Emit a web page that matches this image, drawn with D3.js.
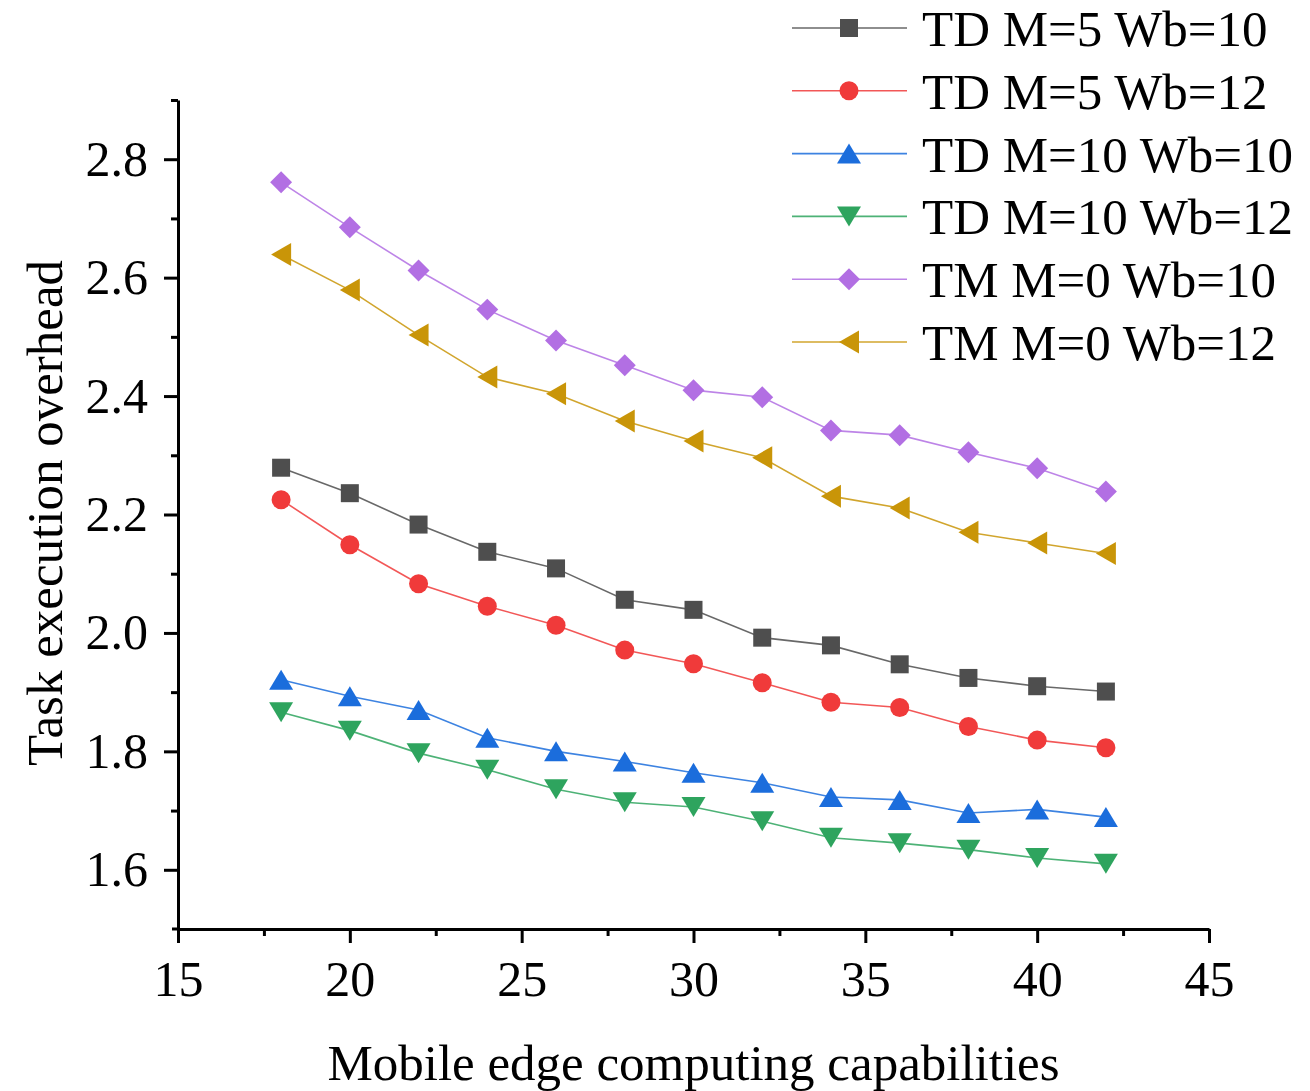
<!DOCTYPE html>
<html>
<head>
<meta charset="utf-8">
<script src="https://cdn.jsdelivr.net/npm/d3@7"></script>
<style>
  html, body { margin: 0; padding: 0; background: #fff; }
  svg { display: block; }
  text { font-family: "Liberation Serif", "Times New Roman", serif; fill: #000; }
</style>
</head>
<body>
<svg id="chart" width="1310" height="1091"></svg>
<script>
// Mobile edge computing capability (x) for every series
const capabilities = [18, 20, 22, 24, 26, 28, 30, 32, 34, 36, 38, 40, 42];

// Task execution overhead per scheme
const tdM5Wb10  = [2.279, 2.236, 2.183, 2.137, 2.109, 2.056, 2.039, 1.992, 1.979, 1.947, 1.924, 1.910, 1.901];
const tdM5Wb12  = [2.225, 2.149, 2.083, 2.045, 2.013, 1.971, 1.948, 1.916, 1.883, 1.874, 1.842, 1.819, 1.806];
const tdM10Wb10 = [1.921, 1.893, 1.870, 1.823, 1.800, 1.783, 1.764, 1.747, 1.723, 1.718, 1.696, 1.702, 1.689];
const tdM10Wb12 = [1.866, 1.835, 1.797, 1.769, 1.736, 1.714, 1.706, 1.682, 1.654, 1.645, 1.634, 1.620, 1.610];
const tmM0Wb10  = [2.761, 2.685, 2.612, 2.546, 2.494, 2.452, 2.410, 2.398, 2.342, 2.334, 2.305, 2.278, 2.239];
const tmM0Wb12  = [2.639, 2.579, 2.503, 2.432, 2.404, 2.358, 2.324, 2.296, 2.231, 2.211, 2.170, 2.152, 2.134];

const seriesNames = ["TD M=5 Wb=10", "TD M=5 Wb=12", "TD M=10 Wb=10", "TD M=10 Wb=12", "TM M=0 Wb=10", "TM M=0 Wb=12"];

// Axis ticks
const xTicks = [15, 20, 25, 30, 35, 40, 45];
const xMinorTicks = [17.5, 22.5, 27.5, 32.5, 37.5, 42.5];
const yTicks = [1.6, 1.8, 2.0, 2.2, 2.4, 2.6, 2.8];
const yMinorTicks = [1.7, 1.9, 2.1, 2.3, 2.5, 2.7, 2.9];

// Marker shapes (each drawn centred on its bounding box)
const shapeSquare = { draw(ctx, size) { const r = Math.sqrt(size) / 2;
  ctx.rect(-r, -r, 2 * r, 2 * r); } };
const shapeCircle = { draw(ctx, size) { const r = Math.sqrt(size) / 2;
  ctx.moveTo(r, 0); ctx.arc(0, 0, r, 0, 2 * Math.PI); } };
const shapeUp = { draw(ctx, size) { const w = Math.sqrt(size) / 2 * 1.2, h = Math.sqrt(size) / 2;
  ctx.moveTo(0, -h); ctx.lineTo(w, h); ctx.lineTo(-w, h); ctx.closePath(); } };
const shapeDown = { draw(ctx, size) { const w = Math.sqrt(size) / 2 * 1.2, h = Math.sqrt(size) / 2;
  ctx.moveTo(0, h); ctx.lineTo(w, -h); ctx.lineTo(-w, -h); ctx.closePath(); } };
const shapeDiamond = { draw(ctx, size) { const r = Math.sqrt(size) / 2 * 1.22;
  ctx.moveTo(0, -r); ctx.lineTo(r, 0); ctx.lineTo(0, r); ctx.lineTo(-r, 0); ctx.closePath(); } };
const shapeLeft = { draw(ctx, size) { const w = Math.sqrt(size) / 2, h = Math.sqrt(size) / 2 * 1.15;
  ctx.moveTo(-w, 0); ctx.lineTo(w, -h); ctx.lineTo(w, h); ctx.closePath(); } };

const series = [
  { name: seriesNames[0], values: tdM5Wb10,  color: "#4e4e4e", shape: shapeSquare,  size: 324 },
  { name: seriesNames[1], values: tdM5Wb12,  color: "#f03a3a", shape: shapeCircle,  size: 361 },
  { name: seriesNames[2], values: tdM10Wb10, color: "#1b6ddc", shape: shapeUp,      size: 400 },
  { name: seriesNames[3], values: tdM10Wb12, color: "#2ea45e", shape: shapeDown,    size: 400 },
  { name: seriesNames[4], values: tmM0Wb10,  color: "#b26fe3", shape: shapeDiamond, size: 324 },
  { name: seriesNames[5], values: tmM0Wb12,  color: "#c99508", shape: shapeLeft,    size: 400 }
];

const svg = d3.select("#chart");

const x = d3.scaleLinear().domain([15, 45]).range([178, 1209]);
const y = d3.scaleLinear().domain([1.5, 2.9]).range([929, 100]);

// Minor ticks
svg.append("g")
  .attr("transform", `translate(0,${y(1.5)})`)
  .call(d3.axisBottom(x).tickValues(xMinorTicks).tickSize(7).tickFormat(""))
  .call(g => g.select(".domain").remove())
  .call(g => g.selectAll("line").attr("stroke", "#000").attr("stroke-width", 3));
svg.append("g")
  .attr("transform", `translate(${x(15)},0)`)
  .call(d3.axisLeft(y).tickValues(yMinorTicks).tickSize(7).tickFormat(""))
  .call(g => g.select(".domain").remove())
  .call(g => g.selectAll("line").attr("stroke", "#000").attr("stroke-width", 3));

// Major axes
const xAxis = svg.append("g")
  .attr("transform", `translate(0,${y(1.5)})`)
  .call(d3.axisBottom(x).tickValues(xTicks).tickSize(14).tickSizeOuter(0).tickPadding(17).tickFormat(d3.format("d")));
const yAxis = svg.append("g")
  .attr("transform", `translate(${x(15)},0)`)
  .call(d3.axisLeft(y).tickValues(yTicks).tickSize(14).tickSizeOuter(0).tickPadding(16).tickFormat(d3.format(".1f")));

[xAxis, yAxis].forEach(g => {
  g.select(".domain").attr("stroke", "#000").attr("stroke-width", 3);
  g.selectAll(".tick line").attr("stroke", "#000").attr("stroke-width", 3);
  g.selectAll(".tick text").attr("font-size", 50)
    .attr("font-family", "'Liberation Serif', 'Times New Roman', serif").attr("fill", "#000");
});
// Extend x axis line slightly beyond the y axis, as in the frame corner
svg.append("line")
  .attr("x1", x(15) - 6).attr("x2", x(15))
  .attr("y1", y(1.5)).attr("y2", y(1.5))
  .attr("stroke", "#000").attr("stroke-width", 3);

// Series lines and markers
const line = d3.line().x((d, i) => x(capabilities[i])).y(d => y(d));

series.forEach(s => {
  svg.append("path")
    .datum(s.values)
    .attr("fill", "none")
    .attr("stroke", s.color)
    .attr("stroke-opacity", 0.85)
    .attr("stroke-width", 1.6)
    .attr("d", line);
});
series.forEach(s => {
  svg.append("g").selectAll("path")
    .data(s.values)
    .join("path")
    .attr("transform", (d, i) => `translate(${x(capabilities[i])},${y(d)})`)
    .attr("d", d3.symbol().type(s.shape).size(s.size))
    .attr("fill", s.color);
});

// Axis titles
svg.append("text")
  .attr("x", (x(15) + x(45)) / 2)
  .attr("y", 1080)
  .attr("text-anchor", "middle")
  .attr("font-size", 51)
  .text("Mobile edge computing capabilities");

svg.append("text")
  .attr("transform", "translate(62,513) rotate(-90)")
  .attr("text-anchor", "middle")
  .attr("font-size", 51)
  .text("Task execution overhead");

// Legend
const legend = svg.append("g");
series.forEach((s, i) => {
  const cy = 28 + i * 62.8;
  const row = legend.append("g").attr("transform", `translate(0,${cy})`);
  row.append("line")
    .attr("x1", 792).attr("x2", 907).attr("y1", 0).attr("y2", 0)
    .attr("stroke", s.color).attr("stroke-opacity", 0.85).attr("stroke-width", 1.6);
  row.append("path")
    .attr("transform", "translate(849,0)")
    .attr("d", d3.symbol().type(s.shape).size(s.size))
    .attr("fill", s.color);
  row.append("text")
    .attr("x", 922).attr("y", 18)
    .attr("font-size", 51)
    .text(s.name);
});
</script>
</body>
</html>
